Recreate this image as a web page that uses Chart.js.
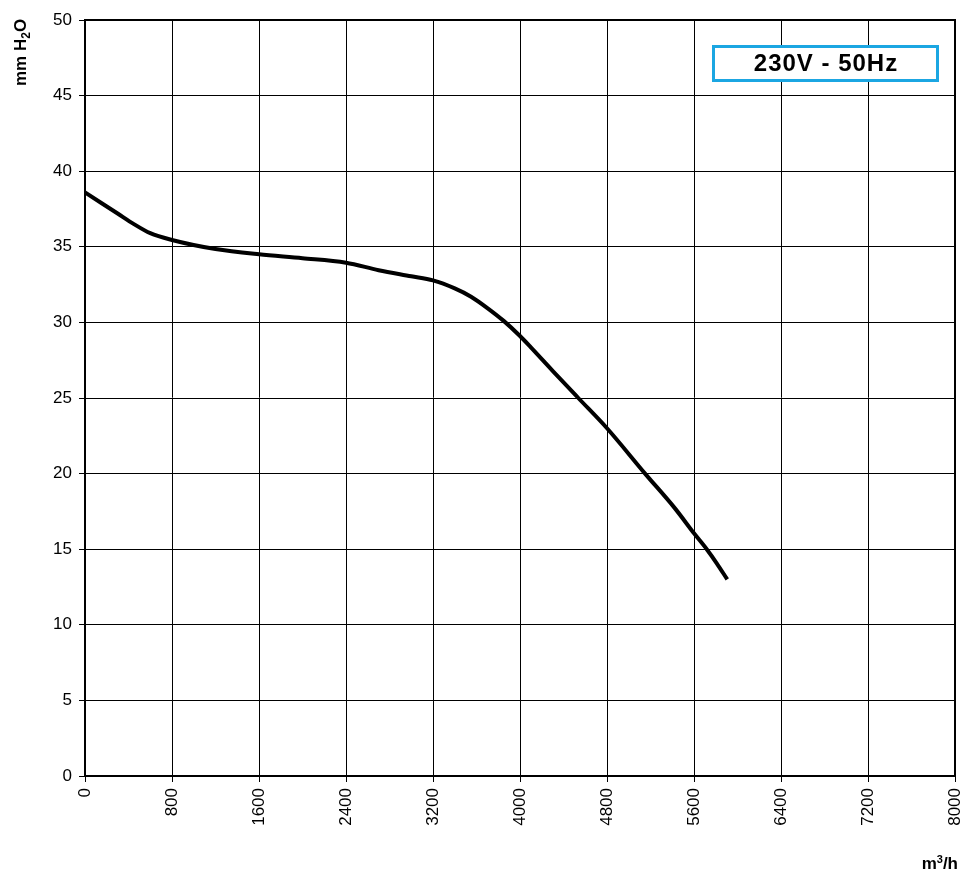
<!DOCTYPE html>
<html>
<head>
<meta charset="utf-8">
<script src="https://cdn.jsdelivr.net/npm/chart.js@4.4.1/dist/chart.umd.min.js"></script>
<style>
  html, body { margin: 0; padding: 0; background: #fff; }
  #wrap { width: 962px; height: 873px; }
</style>
</head>
<body>
<div id="wrap"><canvas id="chart" width="962" height="873"></canvas></div>
<script>
// fan curve (m3/h vs mm H2O)
const flow = [0, 150, 300, 450, 600, 800, 1200, 1600, 2000, 2400, 2700, 3000, 3200, 3400, 3550, 3700, 3850, 4000, 4100, 4300, 4536, 4800, 5150, 5425, 5600, 5717, 5809, 5906];
const pressure = [38.6, 37.9, 37.2, 36.5, 35.9, 35.45, 34.85, 34.5, 34.25, 33.95, 33.45, 33.05, 32.78, 32.25, 31.7, 30.95, 30.1, 29.1, 28.35, 26.8, 25.0, 23.0, 20.0, 17.7, 16.05, 15.0, 14.07, 13.0];
const xTicks = [0, 800, 1600, 2400, 3200, 4000, 4800, 5600, 6400, 7200, 8000];
const yTicks = [0, 5, 10, 15, 20, 25, 30, 35, 40, 45, 50];
const boxLabel = '230V - 50Hz';

const points = flow.map((x, i) => ({ x: x, y: pressure[i] }));
const FONT = '"Liberation Sans", Arial, sans-serif';

// frame, axis titles with sub/superscript, and the voltage box
const extras = {
  id: 'extras',
  afterDraw(chart) {
    const ctx = chart.ctx;
    const a = chart.chartArea;

    ctx.save();
    ctx.strokeStyle = '#000';
    ctx.lineWidth = 2;
    ctx.beginPath();
    ctx.moveTo(a.left, a.top);
    ctx.lineTo(a.right, a.top);
    ctx.lineTo(a.right, a.bottom);
    ctx.stroke();
    ctx.restore();

    // y title, rotated: mm H2O
    ctx.save();
    ctx.fillStyle = '#000';
    ctx.textBaseline = 'alphabetic';
    ctx.translate(26, 86);
    ctx.rotate(-Math.PI / 2);
    ctx.textAlign = 'left';
    ctx.font = 'bold 17px ' + FONT;
    let x = 0;
    ctx.fillText('mm H', x, 0);
    x += ctx.measureText('mm H').width;
    ctx.font = 'bold 12px ' + FONT;
    ctx.fillText('2', x, 4);
    x += ctx.measureText('2').width;
    ctx.font = 'bold 17px ' + FONT;
    ctx.fillText('O', x, 0);
    ctx.restore();

    // x title: m3/h
    ctx.save();
    ctx.fillStyle = '#000';
    ctx.textAlign = 'left';
    const parts = [['m', 17, 0], ['3', 11, -6], ['/h', 17, 0]];
    let w = 0;
    parts.forEach(p => { ctx.font = 'bold ' + p[1] + 'px ' + FONT; w += ctx.measureText(p[0]).width; });
    let px = 958 - w;
    parts.forEach(p => {
      ctx.font = 'bold ' + p[1] + 'px ' + FONT;
      ctx.fillText(p[0], px, 869 + p[2]);
      px += ctx.measureText(p[0]).width;
    });
    ctx.restore();

    // voltage box
    ctx.save();
    ctx.fillStyle = '#fff';
    ctx.fillRect(713, 46, 225, 35);
    ctx.strokeStyle = '#1ba6e2';
    ctx.lineWidth = 3;
    ctx.strokeRect(713.5, 46.5, 224, 34);
    ctx.fillStyle = '#000';
    ctx.font = 'bold 24px ' + FONT;
    ctx.letterSpacing = '1px';
    ctx.textAlign = 'center';
    ctx.textBaseline = 'middle';
    ctx.fillText(boxLabel, 826, 64.5);
    ctx.restore();
  }
};

new Chart(document.getElementById('chart'), {
  type: 'scatter',
  data: {
    datasets: [{
      data: points,
      showLine: true,
      borderColor: '#000',
      borderWidth: 4,
      pointRadius: 0,
      cubicInterpolationMode: 'monotone',
      fill: false
    }]
  },
  options: {
    responsive: false,
    animation: false,
    layout: { padding: { top: 20, right: 7, left: 0, bottom: 0 } },
    plugins: { legend: { display: false }, tooltip: { enabled: false } },
    scales: {
      x: {
        type: 'linear',
        min: 0,
        max: 8000,
        afterBuildTicks(scale) { scale.ticks = xTicks.map(v => ({ value: v })); },
        afterFit(scale) { scale.height = 97; scale.paddingRight = 0; scale.paddingLeft = 0; },
        border: { display: true, color: '#000', width: 2 },
        grid: { color: '#000', lineWidth: 1, tickLength: 6, drawTicks: true },
        ticks: {
          color: '#000',
          font: { family: FONT, size: 17 },
          minRotation: 90,
          maxRotation: 90,
          padding: 6,
          autoSkip: false,
          callback: v => String(v)
        }
      },
      y: {
        type: 'linear',
        min: 0,
        max: 50,
        afterBuildTicks(scale) { scale.ticks = yTicks.map(v => ({ value: v })); },
        afterFit(scale) { scale.width = 85; },
        border: { display: true, color: '#000', width: 2 },
        grid: { color: '#000', lineWidth: 1, tickLength: 6, drawTicks: true },
        ticks: {
          color: '#000',
          font: { family: FONT, size: 17 },
          padding: 7,
          autoSkip: false,
          callback: v => String(v)
        }
      }
    }
  },
  plugins: [extras]
});
</script>
</body>
</html>
